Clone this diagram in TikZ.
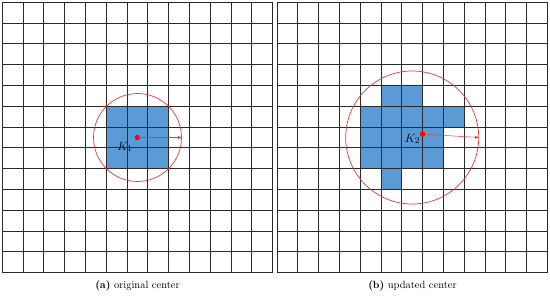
\documentclass[tikz,border=0pt]{standalone}
\usetikzlibrary{arrows.meta}
\definecolor{cellblue}{HTML}{5B9BD5}
\definecolor{circred}{HTML}{E8383D}
\definecolor{gridgray}{HTML}{2A2A2A}
\begin{document}
\begin{tikzpicture}[x=1pt,y=-1pt,
  cellfill/.style={fill=cellblue},
  gridline/.style={draw=gridgray,line width=0.9pt},
  ring/.style={draw=circred,line width=0.7pt,circle,inner sep=0pt},
  centerdot/.style={circle,fill=red,inner sep=0pt,minimum size=5.5pt},
  radiusarrow/.style={draw=circred,line width=0.5pt,-{Latex[length=4pt,width=3pt]}},
  caption/.style={font=\fontsize{10.5}{12}\selectfont,inner sep=0pt},
  klabel/.style={font=\fontsize{12.5}{14}\selectfont,inner sep=0pt}]
\useasboundingbox (0,0) rectangle (550,296);
\def\s{20.8}
% ---------- panel (a) ----------
\def\ox{2.3}\def\oy{2.3}
\foreach \c/\r in {5/5,6/5,7/5,5/6,6/6,7/6,5/7,6/7,7/7}
  \fill[cellfill] ({\ox+\c*\s},{\oy+\r*\s}) rectangle ++(\s,\s);
\foreach \i in {0,...,13} {
  \draw[gridline] ({\ox+\i*\s},\oy) -- ({\ox+\i*\s},{\oy+13*\s});
  \draw[gridline] (\ox,{\oy+\i*\s}) -- ({\ox+13*\s},{\oy+\i*\s});
}
\node[ring,minimum size=88pt] (c1) at ({\ox+6.5*\s},{\oy+6.5*\s}) {};
\node[centerdot] (d1) at (c1.center) {};
\draw[radiusarrow] (d1.center) -- (c1.east);
\node[klabel] (k1) at (125,147) {$K_1$};
\node[caption] (capa) at (137.5,286) {\textbf{(a)} original center};
% ---------- panel (b) ----------
\def\ox{277}
\foreach \c/\r in {5/4,6/4, 4/5,5/5,6/5,7/5,8/5, 4/6,5/6,6/6,7/6, 4/7,5/7,6/7,7/7, 5/8}
  \fill[cellfill] ({\ox+\c*\s},{\oy+\r*\s}) rectangle ++(\s,\s);
\foreach \i in {0,...,13} {
  \draw[gridline] ({\ox+\i*\s},\oy) -- ({\ox+\i*\s},{\oy+13*\s});
  \draw[gridline] (\ox,{\oy+\i*\s}) -- ({\ox+13*\s},{\oy+\i*\s});
}
\node[ring,minimum size=133pt] (c2) at ({\ox+6.5*\s},{\oy+6.5*\s}) {};
\node[centerdot] (d2) at ({\ox+7*\s},{\oy+6.34*\s}) {};
\draw[radiusarrow] (d2.center) -- (c2.east);
\node[klabel] (k2) at (412.5,139) {$K_2$};
\node[caption] (capb) at (412.5,286) {\textbf{(b)} updated center};
\end{tikzpicture}
\end{document}
